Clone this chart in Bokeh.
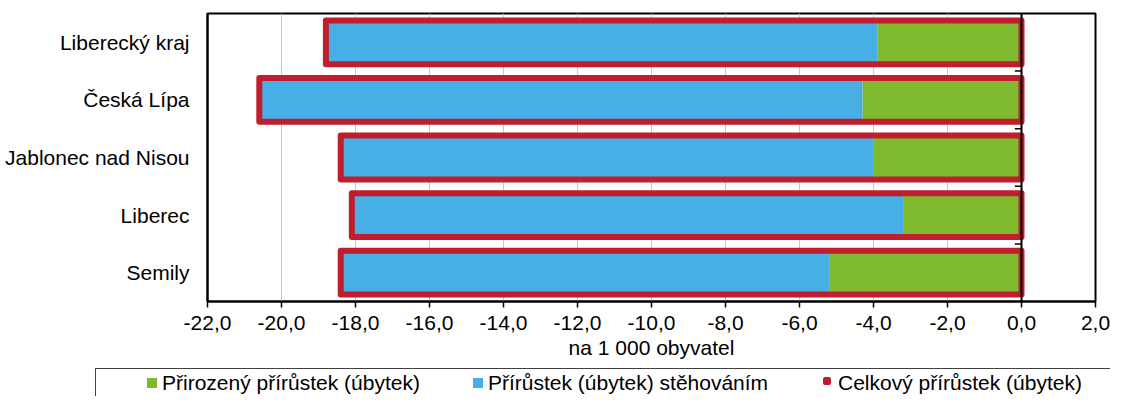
from bokeh.plotting import figure
from bokeh.layouts import column
from bokeh.models import (Range1d, FixedTicker, SingleIntervalTicker, CustomJSTickFormatter,
                          Span, Div, ColumnDataSource)
from bokeh.embed import file_html
from bokeh.resources import INLINE

# ---- data (per 1 000 inhabitants) ----
regions = ["Liberecký kraj", "Česká Lípa", "Jablonec nad Nisou", "Liberec", "Semily"]
natural = [-3.9, -4.3, -4.0, -3.2, -5.2]          # Přirozený přírůstek (úbytek)
migration = [-14.9, -16.3, -14.4, -14.9, -13.2]   # Přírůstek (úbytek) stěhováním
total = [-18.8, -20.6, -18.4, -18.1, -18.4]       # Celkový přírůstek (úbytek)
x_min, x_max, x_step = -22, 2, 2

series_labels = ["Přirozený přírůstek (úbytek)",
                 "Přírůstek (úbytek) stěhováním",
                 "Celkový přírůstek (úbytek)"]

GREEN = "#7FBA2E"
BLUE = "#47AEE6"
RED = "#BE1E2D"
FONT = "Liberation Sans"
FS = "21px"
W = 1110

n = len(regions)
ypos = [n - 1 - i for i in range(n)]
mig_left = [a + b for a, b in zip(natural, migration)]

src = ColumnDataSource(dict(y=ypos, nat=natural, zero=[0] * n, mig_left=mig_left, tot=total))

p = figure(width=W, height=366, output_backend="svg", toolbar_location=None,
           x_range=Range1d(x_min, x_max), y_range=Range1d(-0.5, n - 0.5),
           min_border_left=207, min_border_right=15, min_border_top=13, min_border_bottom=65)

p.background_fill_color = "white"
p.border_fill_color = "white"
p.outline_line_color = "black"
p.outline_line_width = 2

p.hbar(y="y", left="nat", right="zero", height=0.76, source=src,
       fill_color=GREEN, line_color=None)
p.hbar(y="y", left="mig_left", right="nat", height=0.76, source=src,
       fill_color=BLUE, line_color=None)
p.hbar(y="y", left="tot", right="zero", height=0.76, source=src,
       fill_color=None, line_color=RED, line_width=6, line_join="round")

# zero axis with category separators
p.add_layout(Span(location=0, dimension="height", line_color="black", line_width=2))
sep_y = [i + 0.5 for i in range(n - 1)]
p.segment(x0=[0] * len(sep_y), x1=[-0.18] * len(sep_y), y0=sep_y, y1=sep_y,
          line_color="black", line_width=1.5)

# x axis
xa = p.xaxis[0]
xa.ticker = SingleIntervalTicker(interval=x_step)
xa.formatter = CustomJSTickFormatter(code="""
    var s = tick.toFixed(1).replace('.', ',');
    if (s == '-0,0') { s = '0,0'; }
    return s;
""")
xa.axis_line_color = "black"
xa.axis_line_width = 2
xa.major_tick_line_color = "black"
xa.major_tick_line_width = 1.5
xa.major_tick_out = 6
xa.major_tick_in = 0
xa.minor_tick_line_color = None
xa.major_label_text_font = FONT
xa.major_label_text_font_size = FS
xa.major_label_text_color = "black"
xa.major_label_standoff = 8
xa.axis_label = "na 1 000 obyvatel"
xa.axis_label_text_font = FONT
xa.axis_label_text_font_size = FS
xa.axis_label_text_font_style = "normal"
xa.axis_label_text_color = "black"
xa.axis_label_standoff = 3

# y axis (categories)
ya = p.yaxis[0]
ya.ticker = FixedTicker(ticks=ypos)
ya.major_label_overrides = {y: name for y, name in zip(ypos, regions)}
ya.axis_line_color = "black"
ya.axis_line_width = 2
ya.major_tick_line_color = None
ya.major_tick_out = 0
ya.major_tick_in = 0
ya.minor_tick_line_color = None
ya.major_label_text_font = FONT
ya.major_label_text_font_size = FS
ya.major_label_text_color = "black"
ya.major_label_standoff = 18

p.xgrid.grid_line_color = "#C8C8C8"
p.xgrid.grid_line_width = 1
p.ygrid.grid_line_color = None

# ---------------- legend strip (HTML) ----------------
def swatch(left, color, outline=False):
    if outline:
        return (f'<span style="position:absolute;left:{left}px;top:11px;width:4px;height:4px;'
                f'border:4px solid {color};border-radius:2px;background:white"></span>')
    return (f'<span style="position:absolute;left:{left}px;top:12px;width:10px;height:10px;'
            f'background:{color}"></span>')

def text(left, label):
    return (f'<span style="position:absolute;left:{left}px;top:6px;line-height:22px;'
            f'white-space:nowrap">{label}</span>')

html = (f'<div style="position:relative;width:{W}px;height:30px;overflow:hidden;'
        f'font-family:\'{FONT}\';font-size:{FS};color:black;background:white">'
        '<div style="position:absolute;left:95px;top:2px;width:1200px;height:60px;'
        'border-top:1.5px solid #404040;border-left:1.5px solid #404040"></div>'
        + swatch(147, GREEN) + text(162, series_labels[0])
        + swatch(473, BLUE) + text(488, series_labels[1])
        + swatch(823, RED, outline=True) + text(838, series_labels[2])
        + '</div>')

legend_div = Div(text=html, width=W, height=30, margin=0)

layout = column(p, legend_div, spacing=0)
open("out.html", "w").write(file_html(layout, INLINE))
